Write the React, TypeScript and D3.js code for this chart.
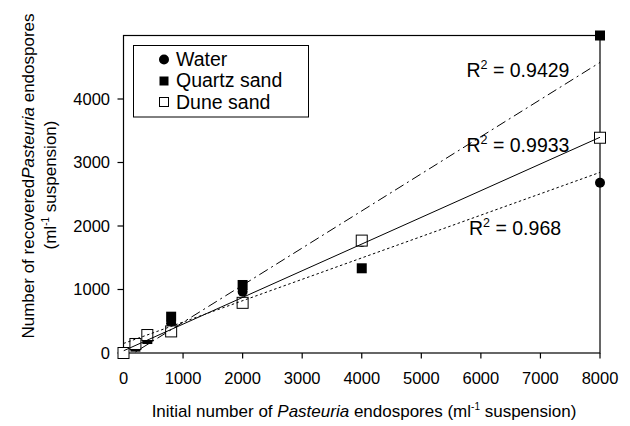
import React from "react";
import * as d3 from "d3";

const xValues = [0, 200, 400, 800, 2000, 4000, 8000];
const water = [0, 120, 250, 470, 965, 1750, 2682];
const quartz = [0, 100, 220, 572, 1071, 1334, 5000];
const dune = [0, 142, 283, 340, 790, 1770, 3390];
const xTicks = [0, 1000, 2000, 3000, 4000, 5000, 6000, 7000, 8000];
const yTicks = [0, 1000, 2000, 3000, 4000];
const legendLabels = ["Water", "Quartz sand", "Dune sand"];
const r2Labels = ["0.9429", "0.9933", "0.968"];

const W = 630;
const H = 426;
const left = 123.5;
const right = 600;
const top = 35.5;
const bottom = 353;
const FONT = "'Liberation Sans', Arial, Helvetica, sans-serif";

function fit(xs: number[], ys: number[]) {
  const mx = d3.mean(xs) as number;
  const my = d3.mean(ys) as number;
  let sxy = 0;
  let sxx = 0;
  xs.forEach((x, i) => {
    sxy += (x - mx) * (ys[i] - my);
    sxx += (x - mx) * (x - mx);
  });
  const slope = sxy / sxx;
  return { slope, intercept: my - slope * mx };
}

export default function App() {
  const x = d3.scaleLinear().domain([0, 8000]).range([left, right]);
  const y = d3.scaleLinear().domain([0, 5000]).range([bottom, top]);

  const trend = (ys: number[]) => {
    const f = fit(xValues, ys);
    const ends = [0, 8000];
    return d3
      .line<number>()
      .x((d) => x(d))
      .y((d) => y(f.intercept + f.slope * d))(ends) as string;
  };

  const sqF = 10;
  const sqO = 11;

  return (
    <svg
      width={W}
      height={H}
      style={{ position: "absolute", left: 0, top: 0, background: "#fff" }}
      fontFamily={FONT}
    >
      <defs>
        <clipPath id="plot">
          <rect x={left} y={top} width={right - left} height={bottom - top} />
        </clipPath>
      </defs>
      <rect x={0} y={0} width={W} height={H} fill="#fff" />

      {/* frame */}
      <rect
        x={left}
        y={top}
        width={right - left}
        height={bottom - top}
        fill="none"
        stroke="#000"
        strokeWidth={1.2}
      />

      {/* x ticks */}
      {xTicks.map((t) => (
        <g key={"x" + t}>
          <line x1={x(t)} x2={x(t)} y1={bottom} y2={bottom + 5.5} stroke="#000" strokeWidth={1.2} />
          <text x={x(t)} y={383.5} fontSize={16.5} textAnchor="middle" fill="#000">
            {t}
          </text>
        </g>
      ))}
      {/* y ticks */}
      {yTicks.map((t) => (
        <g key={"y" + t}>
          <line x1={left - 6} x2={left} y1={y(t)} y2={y(t)} stroke="#000" strokeWidth={1.2} />
          <text x={110} y={y(t) + 5.8} fontSize={16.5} textAnchor="end" fill="#000">
            {t}
          </text>
        </g>
      ))}

      {/* markers */}
      {xValues.map((v, i) => (
        <circle key={"w" + i} cx={x(v)} cy={y(water[i])} r={5} fill="#000" />
      ))}
      {xValues.map((v, i) => (
        <rect
          key={"q" + i}
          x={x(v) - sqF / 2}
          y={y(quartz[i]) - sqF / 2}
          width={sqF}
          height={sqF}
          fill="#000"
        />
      ))}
      {xValues.map((v, i) => (
        <rect
          key={"d" + i}
          x={x(v) - sqO / 2}
          y={y(dune[i]) - sqO / 2}
          width={sqO}
          height={sqO}
          fill="#fff"
          stroke="#000"
          strokeWidth={1}
        />
      ))}

      {/* trend lines */}
      <g clipPath="url(#plot)" fill="none" stroke="#000" strokeWidth={1}>
        <path d={trend(quartz)} strokeDasharray="10,4,2,4" />
        <path d={trend(dune)} />
        <path d={trend(water)} strokeDasharray="2.5,2.5" />
      </g>

      {/* R2 labels */}
      {[
        { xx: 466.5, yy: 77 },
        { xx: 466.5, yy: 152 },
        { xx: 469, yy: 235 },
      ].map((p, i) => (
        <text key={"r" + i} x={p.xx} y={p.yy} fontSize={19.5} fill="#000">
          R
          <tspan fontSize={12.5} dy={-8.5}>
            2
          </tspan>
          <tspan dy={8.5}>{" = " + r2Labels[i]}</tspan>
        </text>
      ))}

      {/* legend */}
      <rect x={133.5} y={45.5} width={175} height={71.5} fill="#fff" stroke="#000" strokeWidth={1} />
      <circle cx={164} cy={59.5} r={5} fill="#000" />
      <rect x={159.5} y={76.5} width={9} height={9} fill="#000" />
      <rect x={159.5} y={97.5} width={9} height={9} fill="#fff" stroke="#000" strokeWidth={1} />
      {legendLabels.map((l, i) => (
        <text key={l} x={176} y={65.5 + i * 21.7} fontSize={19.5} fill="#000">
          {l}
        </text>
      ))}

      {/* axis titles */}
      <text x={364} y={417} fontSize={17} textAnchor="middle" fill="#000">
        Initial number of <tspan fontStyle="italic">Pasteuria</tspan> endospores (ml
        <tspan fontSize={10} dy={-7}>
          -1
        </tspan>
        <tspan dy={7}> suspension)</tspan>
      </text>
      <g transform="translate(33.5,176) rotate(-90)">
        <text x={0} y={0} fontSize={17} textAnchor="middle" fill="#000">
          Number of recovered<tspan fontStyle="italic">Pasteuria</tspan> endospores
        </text>
      </g>
      <g transform="translate(55.5,185) rotate(-90)">
        <text x={0} y={0} fontSize={17} textAnchor="middle" fill="#000">
          (ml
          <tspan fontSize={10} dy={-7}>
            -1
          </tspan>
          <tspan dy={7}> suspension)</tspan>
        </text>
      </g>
    </svg>
  );
}
